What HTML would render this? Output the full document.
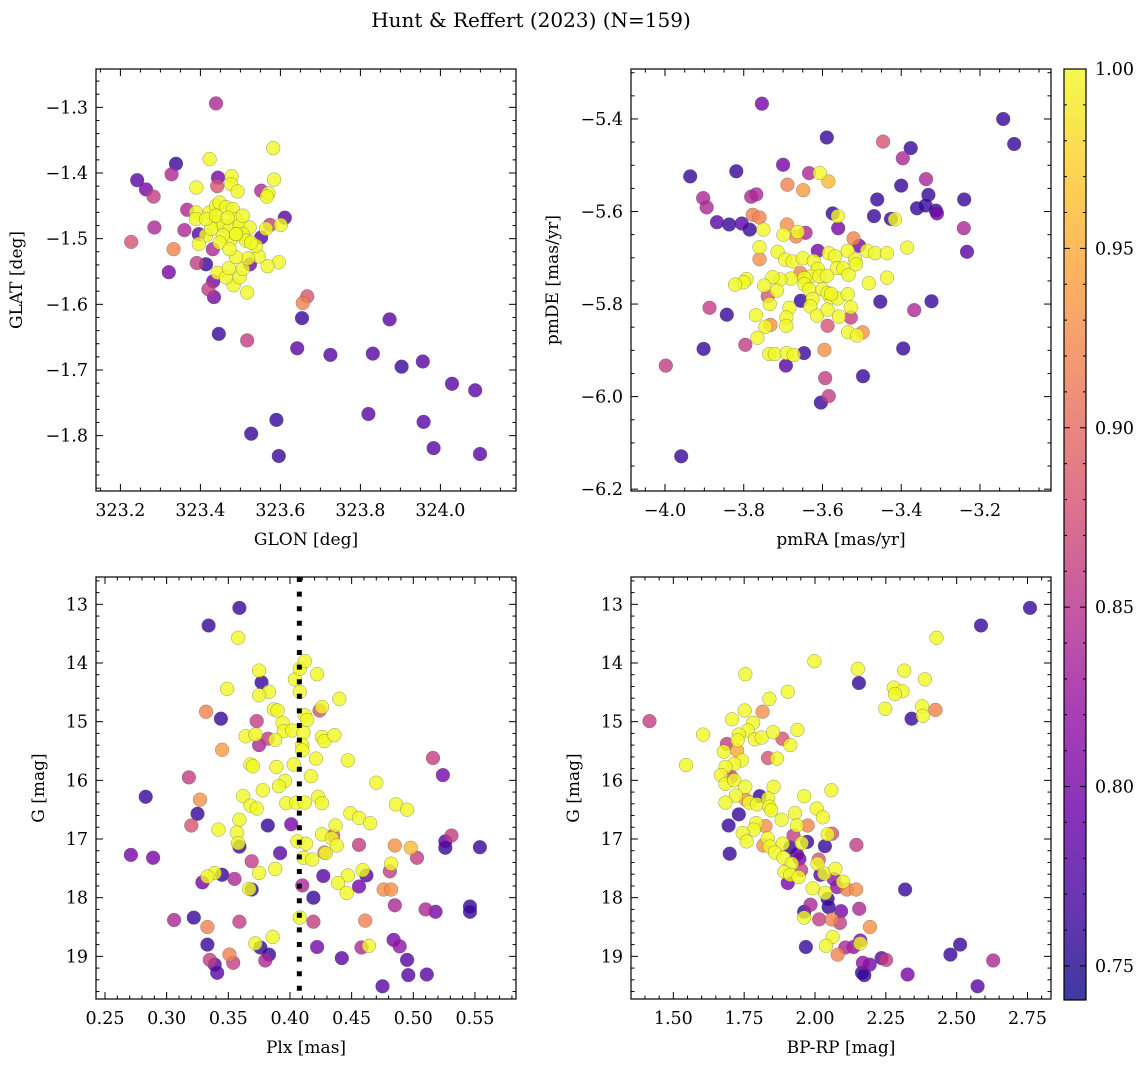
<!DOCTYPE html>
<html><head><meta charset="utf-8"><title>Hunt & Reffert (2023)</title>
<style>
html,body{margin:0;padding:0;background:#fff;}
svg{display:block;font-family:"DejaVu Serif","Liberation Serif",serif;}
</style></head>
<body>
<svg id="fig" width="1148" height="1068" viewBox="0 0 1148 1068" xmlns="http://www.w3.org/2000/svg">
<rect x="0" y="0" width="1148" height="1068" fill="#fff"/>
<text x="531" y="27" font-size="20" text-anchor="middle">Hunt &amp; Reffert (2023) (N=159)</text>
</svg>
<script>
// ---------- data: top-left (GLON / GLAT) ----------
const tlX = [323.439,323.582,323.423,323.339,323.242,323.264,323.283,323.328,323.444,323.442,323.390,323.478,323.477,323.493,323.584,323.552,323.570,323.566,323.367,323.285,323.360,323.227,323.333,323.321,323.611,323.601,323.574,323.564,323.552,323.396,323.391,323.414,323.431,323.432,323.420,323.434,323.524,323.596,323.568,323.546,323.517,323.483,323.443,323.464,323.498,323.506,323.471,323.519,323.489,323.667,323.656,323.654,323.446,323.517,323.873,323.642,323.725,323.831,323.903,323.956,324.029,324.087,323.820,323.958,323.590,323.527,323.983,323.596,324.099,323.389,323.389,323.414,323.396,323.423,323.439,323.448,323.464,323.481,323.489,323.439,323.456,323.473,323.498,323.523,323.506,323.514,323.539,323.477,323.456,323.448,323.473,323.489,323.427,323.414,323.439,323.468,323.489,323.506,323.527];
const tlY = [-1.294,-1.362,-1.379,-1.386,-1.411,-1.425,-1.436,-1.402,-1.407,-1.420,-1.422,-1.405,-1.417,-1.428,-1.410,-1.427,-1.431,-1.436,-1.456,-1.483,-1.487,-1.505,-1.516,-1.551,-1.468,-1.479,-1.479,-1.485,-1.498,-1.493,-1.537,-1.539,-1.516,-1.565,-1.577,-1.589,-1.539,-1.536,-1.542,-1.527,-1.582,-1.571,-1.552,-1.559,-1.559,-1.546,-1.545,-1.530,-1.528,-1.588,-1.598,-1.621,-1.645,-1.655,-1.623,-1.667,-1.677,-1.675,-1.695,-1.687,-1.721,-1.731,-1.767,-1.779,-1.776,-1.797,-1.819,-1.831,-1.828,-1.460,-1.470,-1.495,-1.508,-1.460,-1.450,-1.445,-1.452,-1.455,-1.470,-1.475,-1.480,-1.485,-1.480,-1.483,-1.493,-1.503,-1.511,-1.501,-1.495,-1.506,-1.516,-1.493,-1.485,-1.470,-1.465,-1.468,-1.493,-1.465,-1.506];
const tlP = [0.84,1,1,0.76,0.78,0.80,0.86,0.84,0.80,0.88,1,1,1,1,1,0.84,1,1,0.84,0.84,0.84,0.88,0.92,0.80,0.78,1,0.86,1,0.78,0.78,0.86,0.76,0.84,0.80,0.86,0.80,0.80,1,1,1,1,1,1,1,1,1,1,1,1,0.88,0.92,0.76,0.76,0.86,0.78,0.78,0.78,0.78,0.76,0.78,0.78,0.78,0.78,0.78,0.76,0.76,0.78,0.76,0.78,1,1,1,1,1,1,1,1,1,1,1,1,1,1,1,1,1,1,1,1,1,1,1,1,1,1,1,1,1,1];

// ---------- data: top-right (pmRA / pmDE) ----------
const trX = [-3.754,-3.141,-3.113,-3.589,-3.446,-3.376,-3.396,-3.936,-3.819,-3.700,-3.634,-3.607,-3.585,-3.689,-3.649,-3.781,-3.768,-3.903,-3.894,-3.400,-3.337,-3.331,-3.461,-3.360,-3.338,-3.312,-3.309,-3.240,-3.241,-3.233,-3.777,-3.760,-3.868,-3.837,-3.805,-3.785,-3.750,-3.574,-3.561,-3.560,-3.469,-3.426,-3.416,-3.690,-3.667,-3.643,-3.663,-3.699,-3.521,-3.507,-3.385,-3.760,-3.760,-3.612,-3.887,-3.843,-3.902,-3.998,-3.959,-3.796,-3.453,-3.323,-3.367,-3.395,-3.497,-3.595,-3.647,-3.693,-3.593,-3.584,-3.604,-3.655,-3.587,-3.498,-3.528,-3.732,-3.739,-3.656,-3.714,-3.695,-3.676,-3.650,-3.622,-3.584,-3.568,-3.536,-3.517,-3.515,-3.487,-3.466,-3.436,-3.563,-3.547,-3.534,-3.612,-3.629,-3.608,-3.589,-3.646,-3.680,-3.707,-3.727,-3.793,-3.800,-3.822,-3.748,-3.716,-3.646,-3.634,-3.625,-3.631,-3.600,-3.580,-3.561,-3.536,-3.587,-3.734,-3.684,-3.769,-3.745,-3.692,-3.692,-3.614,-3.587,-3.558,-3.528,-3.535,-3.512,-3.765,-3.735,-3.721,-3.691,-3.673,-3.482,-3.436,-3.578];
const trY = [-5.367,-5.400,-5.454,-5.440,-5.449,-5.463,-5.485,-5.524,-5.513,-5.499,-5.517,-5.517,-5.535,-5.542,-5.554,-5.568,-5.563,-5.571,-5.591,-5.544,-5.530,-5.564,-5.574,-5.593,-5.587,-5.598,-5.604,-5.574,-5.636,-5.687,-5.607,-5.613,-5.623,-5.628,-5.626,-5.639,-5.639,-5.604,-5.610,-5.636,-5.610,-5.616,-5.617,-5.628,-5.654,-5.646,-5.644,-5.650,-5.658,-5.674,-5.678,-5.703,-5.677,-5.685,-5.808,-5.823,-5.897,-5.933,-6.129,-5.888,-5.795,-5.794,-5.813,-5.896,-5.956,-5.899,-5.906,-5.933,-5.960,-5.999,-6.013,-5.793,-5.847,-5.861,-5.829,-5.845,-5.783,-5.733,-5.687,-5.704,-5.708,-5.701,-5.707,-5.690,-5.697,-5.685,-5.704,-5.714,-5.685,-5.690,-5.690,-5.722,-5.723,-5.737,-5.724,-5.740,-5.740,-5.739,-5.744,-5.745,-5.747,-5.742,-5.746,-5.753,-5.758,-5.760,-5.771,-5.757,-5.768,-5.789,-5.805,-5.768,-5.786,-5.788,-5.779,-5.776,-5.800,-5.808,-5.824,-5.849,-5.829,-5.847,-5.825,-5.812,-5.827,-5.807,-5.861,-5.868,-5.873,-5.908,-5.908,-5.906,-5.910,-5.755,-5.743,-5.778];
const trP = [0.80,0.76,0.76,0.76,0.88,0.76,0.84,0.76,0.76,0.80,0.84,1,0.96,0.92,0.94,0.84,0.84,0.84,0.84,0.76,0.84,0.76,0.76,0.76,0.76,0.76,0.80,0.76,0.84,0.78,0.92,0.92,0.78,0.76,0.78,0.76,1,0.76,1,0.80,0.76,0.76,1,0.93,0.92,0.84,1,1,0.92,0.80,1,0.93,1,0.80,0.86,0.76,0.76,0.86,0.76,0.86,0.76,0.76,0.84,0.76,0.76,0.93,0.76,0.78,0.86,0.86,0.76,0.76,0.88,0.93,0.86,0.93,0.88,0.92,1,1,1,1,1,1,1,1,1,1,1,1,1,1,1,1,1,1,1,1,1,1,1,1,1,1,1,1,1,1,1,1,1,1,1,1,1,1,1,1,1,1,1,1,1,1,1,1,1,1,1,1,1,1,1,1,1,1];

// ---------- data: bottom-left (Plx / G) ----------
const blX = [0.359,0.334,0.358,0.283,0.271,0.289,0.318,0.327,0.325,0.320,0.332,0.344,0.345,0.373,0.375,0.382,0.377,0.359,0.369,0.382,0.392,0.401,0.345,0.329,0.355,0.369,0.306,0.322,0.333,0.359,0.333,0.335,0.339,0.341,0.351,0.354,0.376,0.383,0.380,0.424,0.410,0.419,0.427,0.419,0.422,0.442,0.428,0.435,0.456,0.456,0.458,0.461,0.462,0.475,0.476,0.482,0.481,0.485,0.484,0.489,0.495,0.496,0.511,0.485,0.503,0.498,0.510,0.518,0.516,0.524,0.526,0.526,0.531,0.546,0.546,0.554,0.375,0.422,0.404,0.408,0.412,0.349,0.383,0.375,0.408,0.440,0.426,0.387,0.390,0.412,0.414,0.394,0.395,0.402,0.411,0.364,0.372,0.388,0.426,0.428,0.436,0.410,0.410,0.368,0.370,0.389,0.403,0.421,0.447,0.417,0.396,0.391,0.378,0.362,0.368,0.373,0.397,0.405,0.412,0.423,0.426,0.470,0.486,0.495,0.449,0.456,0.465,0.359,0.342,0.357,0.358,0.437,0.426,0.434,0.438,0.406,0.413,0.429,0.411,0.418,0.388,0.375,0.339,0.333,0.367,0.447,0.439,0.446,0.459,0.482,0.408,0.386,0.372,0.464];
const blY = [13.06,13.36,13.57,16.28,17.27,17.32,15.95,16.33,16.57,16.77,14.83,14.95,15.48,14.99,15.40,15.29,14.33,17.13,17.38,16.77,17.24,16.75,17.61,17.74,17.68,17.86,18.38,18.34,18.50,18.41,18.80,19.06,19.14,19.28,18.97,19.11,18.85,18.97,19.07,14.81,17.79,18.00,17.63,18.41,18.84,19.03,17.23,16.94,17.10,17.81,18.85,18.39,17.62,19.51,17.86,17.86,17.55,18.13,18.72,18.83,19.06,19.32,19.31,17.11,17.32,17.15,18.20,18.24,15.62,15.91,17.04,17.15,16.94,18.15,18.24,17.14,14.13,14.19,14.28,14.10,13.97,14.44,14.49,14.55,14.49,14.61,14.75,14.79,14.81,14.89,14.97,15.02,15.16,15.15,15.19,15.25,15.22,15.31,15.26,15.33,15.23,15.40,15.49,15.73,15.76,15.77,15.73,15.63,15.66,15.93,16.01,16.10,16.17,16.27,16.43,16.48,16.39,16.38,16.38,16.28,16.39,16.04,16.41,16.50,16.56,16.64,16.73,16.67,16.84,16.89,17.07,16.77,16.92,16.99,17.11,17.04,17.08,17.24,17.32,17.35,17.51,17.58,17.58,17.64,17.85,17.62,17.75,17.92,17.53,17.42,18.34,18.67,18.78,18.82];
const blP = [0.76,0.76,1,0.76,0.80,0.80,0.86,0.93,0.76,0.88,0.92,0.76,0.94,0.86,0.84,0.86,0.76,0.76,0.86,0.76,0.78,0.80,0.76,0.80,0.84,0.76,0.84,0.76,0.92,0.86,0.76,0.86,0.78,0.78,0.92,0.86,0.76,0.76,0.84,0.88,0.84,0.76,0.78,0.86,0.80,0.78,0.90,0.88,0.86,0.80,0.84,0.92,0.78,0.78,0.93,0.93,0.86,0.84,0.80,0.82,0.78,0.78,0.78,0.93,0.86,0.96,0.84,0.80,0.86,0.80,0.78,0.76,0.86,0.76,0.76,0.76,1,1,1,1,1,1,1,1,1,1,1,1,1,1,1,1,1,1,1,1,1,1,1,1,1,1,1,1,1,1,1,1,1,1,1,1,1,1,1,1,1,1,1,1,1,1,1,1,1,1,1,1,1,1,1,1,1,1,1,1,1,1,1,1,1,1,1,1,1,1,1,1,1,1,1,1,1,1,1,1,1,1];

// ---------- data: bottom-right (BP-RP / G) ----------
const brX = [2.759,2.586,2.429,1.998,2.151,2.155,2.315,2.388,2.278,2.309,2.282,1.754,1.904,1.839,2.248,2.378,2.381,2.425,2.341,1.416,1.815,1.752,1.707,1.782,1.605,1.762,1.731,1.788,1.812,1.852,1.885,1.938,1.913,1.727,1.689,1.678,1.725,1.834,1.866,1.742,1.715,1.684,1.545,1.668,1.704,1.684,1.715,1.754,1.854,2.058,1.962,1.721,1.684,1.805,1.756,1.768,1.795,1.835,1.839,1.845,2.006,2.028,1.731,1.695,1.882,1.929,1.792,1.784,1.825,1.936,1.974,1.924,1.745,1.759,1.833,1.818,1.840,1.886,1.913,1.972,1.953,2.060,2.045,2.035,2.146,1.699,1.859,1.889,1.936,1.945,2.013,2.009,1.918,1.951,1.892,1.913,1.942,2.019,2.033,2.072,2.066,1.904,2.099,2.078,2.113,2.145,1.992,2.036,2.045,2.318,1.984,2.048,2.092,2.156,1.962,1.962,2.015,2.059,2.088,2.194,2.062,1.968,2.039,2.080,2.107,2.136,2.160,2.160,2.235,2.251,2.169,2.193,2.166,2.174,2.327,2.478,2.512,2.629,2.574];
const brY = [13.06,13.36,13.57,13.97,14.10,14.34,14.13,14.28,14.42,14.48,14.53,14.19,14.49,14.61,14.78,14.74,14.90,14.80,14.95,14.99,14.83,14.81,14.96,15.02,15.22,15.15,15.22,15.30,15.27,15.18,15.29,15.14,15.40,15.32,15.38,15.51,15.49,15.62,15.63,15.66,15.72,15.77,15.74,15.91,15.94,16.06,16.00,16.11,16.11,16.17,16.27,16.26,16.38,16.27,16.33,16.38,16.41,16.31,16.45,16.51,16.48,16.63,16.58,16.77,16.67,16.56,16.73,16.84,16.78,16.77,16.77,16.94,16.90,17.04,16.99,17.11,17.13,17.08,17.14,17.05,17.07,16.91,16.92,17.12,17.10,17.25,17.23,17.32,17.26,17.34,17.35,17.42,17.42,17.53,17.56,17.61,17.65,17.61,17.59,17.51,17.68,17.75,17.73,17.82,17.86,17.86,17.84,17.92,18.02,17.86,18.12,18.16,18.23,18.19,18.24,18.34,18.37,18.37,18.43,18.50,18.67,18.84,18.82,18.97,18.85,18.84,18.73,18.78,19.03,19.06,19.11,19.14,19.28,19.32,19.31,18.97,18.80,19.07,19.51];
const brP = [0.76,0.76,1,1,1,0.76,1,1,1,1,1,1,1,1,1,1,1,0.92,0.76,0.86,0.93,1,1,1,1,1,1,1,1,1,0.88,1,1,1,0.86,1,0.95,0.88,1,1,1,1,1,1,0.86,1,1,1,1,1,1,1,1,0.76,0.93,1,1,1,1,1,1,1,0.76,0.76,1,1,1,1,0.93,1,0.92,0.86,1,1,1,0.93,1,1,0.76,0.76,1,0.88,1,0.76,0.86,0.76,1,1,0.78,0.80,0.88,1,1,0.86,1,1,1,0.78,1,1,0.82,0.80,1,0.82,0.92,0.93,1,1,0.76,0.76,0.84,0.76,0.80,0.84,0.76,1,0.86,0.92,0.86,0.93,1,0.76,1,0.92,0.84,0.82,0.80,1,0.78,0.86,0.82,0.80,0.76,0.76,0.80,0.76,0.76,0.84,0.78];

// tick values
const tlXTicks = [323.2,323.4,323.6,323.8,324.0];
const tlYTicks = [-1.3,-1.4,-1.5,-1.6,-1.7,-1.8];
const trXTicks = [-4.0,-3.8,-3.6,-3.4,-3.2];
const trYTicks = [-5.4,-5.6,-5.8,-6.0,-6.2];
const blXTicks = [0.25,0.30,0.35,0.40,0.45,0.50,0.55];
const gTicks = [13,14,15,16,17,18,19];
const brXTicks = [1.50,1.75,2.00,2.25,2.50,2.75];
const cbTicks = [0.75,0.80,0.85,0.90,0.95,1.00];
const plxCut = [0.4076];

const NS = "http://www.w3.org/2000/svg";
const svg = document.getElementById('fig');
function mk(tag, attrs, parent){ const e=document.createElementNS(NS,tag); for(const k in attrs) e.setAttribute(k,attrs[k]); (parent||svg).appendChild(e); return e; }

const PMIN=0.7405, PMAX=1.0;
const plasma=["#0d0887","#41049d","#6a00a8","#8f0da4","#b12a90","#cc4778","#e16462","#f2844b","#fca636","#fcce25","#f0f921"];
function hex2rgb(h){return [parseInt(h.substr(1,2),16),parseInt(h.substr(3,2),16),parseInt(h.substr(5,2),16)];}
function cmap(p){ let t=(p-PMIN)/(PMAX-PMIN); t=Math.max(0,Math.min(1,t)); const f=t*10; const i=Math.min(9,Math.floor(f)); const u=f-i; const a=hex2rgb(plasma[i]), b=hex2rgb(plasma[i+1]); return "rgb("+a.map((v,k)=>Math.round(v+(b[k]-v)*u)).join(",")+")"; }
function fmt(v,d){ const s=Math.abs(v).toFixed(d); return (v<-1e-9?"\u2212":"")+s; }

const TICKFS=17.5, LABFS=17;

function panel(cfg){
  const g=mk('g',{});
  
  
  const sx=v=>cfg.x0+(v-cfg.xmin)/(cfg.xmax-cfg.xmin)*cfg.w;
  const sy=v=>cfg.y0+(v-cfg.ytop)/(cfg.ybot-cfg.ytop)*cfg.h;
  const idx=cfg.px.map((_,i)=>i).sort((a,b)=>cfg.pp[a]-cfg.pp[b]);
  const pg=mk('g',{},g);
  idx.forEach(i=>{
    const c=mk('circle',{cx:sx(cfg.px[i]).toFixed(1),cy:sy(cfg.py[i]).toFixed(1),r:6.9,fill:cmap(cfg.pp[i]),'fill-opacity':0.8,stroke:'#555','stroke-width':0.5,'stroke-opacity':0.6},pg);
    
    
  });
  if(cfg.vline){ cfg.vline.forEach(v=>{
    const l=mk('line',{x1:sx(v),x2:sx(v),y1:cfg.y0,y2:cfg.y0+cfg.h,stroke:'#000','stroke-width':5,'stroke-dasharray':'5,9.6'},g);
    
    
  });}
  const fr=mk('rect',{x:cfg.x0,y:cfg.y0,width:cfg.w,height:cfg.h,fill:'none',stroke:'#000','stroke-width':1.2},g);
  
  
  const lo=Math.min(cfg.xmin,cfg.xmax), hi=Math.max(cfg.xmin,cfg.xmax);
  const xm=cfg.xminor;
  for(let v=Math.ceil(lo/xm-1e-6)*xm; v<=hi+1e-9; v+=xm){
    const X=sx(v); const major=cfg.xt.some(t=>Math.abs(t-v)<xm/10); const L=major?7:3.5;
    mk('line',{x1:X,x2:X,y1:cfg.y0+cfg.h,y2:cfg.y0+cfg.h-L,stroke:'#000','stroke-width':1},g);
    mk('line',{x1:X,x2:X,y1:cfg.y0,y2:cfg.y0+L,stroke:'#000','stroke-width':1},g);
  }
  cfg.xt.forEach(t=>{
    const tx=mk('text',{x:sx(t),y:cfg.y0+cfg.h+25,'font-size':TICKFS,'text-anchor':'middle'},g);
    tx.textContent=fmt(t,cfg.xd);
    
    
  });
  const ylo=Math.min(cfg.ytop,cfg.ybot), yhi=Math.max(cfg.ytop,cfg.ybot), ym=cfg.yminor;
  for(let v=Math.ceil(ylo/ym-1e-6)*ym; v<=yhi+1e-9; v+=ym){
    const Y=sy(v); const major=cfg.yt.some(t=>Math.abs(t-v)<ym/10); const L=major?7:3.5;
    mk('line',{x1:cfg.x0,x2:cfg.x0+L,y1:Y,y2:Y,stroke:'#000','stroke-width':1},g);
    mk('line',{x1:cfg.x0+cfg.w,x2:cfg.x0+cfg.w-L,y1:Y,y2:Y,stroke:'#000','stroke-width':1},g);
  }
  cfg.yt.forEach(t=>{
    const tx=mk('text',{x:cfg.x0-8,y:sy(t)+6,'font-size':TICKFS,'text-anchor':'end'},g);
    tx.textContent=fmt(t,cfg.yd);
    
    
  });
  const xl=mk('text',{x:cfg.x0+cfg.w/2,y:cfg.y0+cfg.h+54,'font-size':LABFS,'text-anchor':'middle'},g);
  xl.textContent=cfg.xlabel;
  
  
  const yx=cfg.ylx, yy=cfg.y0+cfg.h/2;
  const yl=mk('text',{x:yx,y:yy,'font-size':LABFS,'text-anchor':'middle',transform:'rotate(-90 '+yx+' '+yy+')'},g);
  yl.textContent=cfg.ylabel;
  
  
}

panel({name:'glon-glat-panel',x0:96,y0:69,w:420,h:422,xmin:323.139,xmax:324.189,ytop:-1.2416,ybot:-1.8843,px:tlX,py:tlY,pp:tlP,xt:tlXTicks,yt:tlYTicks,xminor:0.05,yminor:0.02,xd:1,yd:1,xlabel:'GLON [deg]',ylabel:'GLAT [deg]',ylx:22});
panel({name:'proper-motion-panel',x0:631,y0:69,w:420,h:422,xmin:-4.0864,xmax:-3.0195,ytop:-5.292,ybot:-6.204,px:trX,py:trY,pp:trP,xt:trXTicks,yt:trYTicks,xminor:0.05,yminor:0.05,xd:1,yd:1,xlabel:'pmRA [mas/yr]',ylabel:'pmDE [mas/yr]',ylx:558});
panel({name:'parallax-magnitude-panel',x0:96,y0:577,w:420,h:422,xmin:0.2427,xmax:0.5833,ytop:12.534,ybot:19.727,px:blX,py:blY,pp:blP,xt:blXTicks,yt:gTicks,xminor:0.01,yminor:0.2,xd:2,yd:0,xlabel:'Plx [mas]',ylabel:'G [mag]',ylx:44,vline:plxCut});
panel({name:'color-magnitude-panel',x0:631,y0:577,w:420,h:422,xmin:1.3506,xmax:2.833,ytop:12.534,ybot:19.727,px:brX,py:brY,pp:brP,xt:brXTicks,yt:gTicks,xminor:0.05,yminor:0.2,xd:2,yd:0,xlabel:'BP-RP [mag]',ylabel:'G [mag]',ylx:579});

// colorbar
(function(){
  const x0=1064,y0=69,w=22,h=931;
  const defs=mk('defs',{});
  const lg=mk('linearGradient',{id:'plasmaGrad',x1:0,y1:1,x2:0,y2:0},defs);
  plasma.forEach((c,i)=>mk('stop',{offset:(i/10),'stop-color':c},lg));
  const cb=mk('g',{});
  
  
  mk('rect',{x:x0,y:y0,width:w,height:h,fill:'url(#plasmaGrad)','fill-opacity':0.8},cb);
  mk('rect',{x:x0,y:y0,width:w,height:h,fill:'none',stroke:'#000','stroke-width':1.2},cb);
  const sy=v=>y0+(PMAX-v)/(PMAX-PMIN)*h;
  for(let v=0.75; v<=1.0001; v+=0.01){
    const Y=sy(v); const major=cbTicks.some(t=>Math.abs(t-v)<0.001); const L=major?6:3;
    mk('line',{x1:x0+w,x2:x0+w-L,y1:Y,y2:Y,stroke:'#000','stroke-width':1},cb);
    mk('line',{x1:x0,x2:x0+L,y1:Y,y2:Y,stroke:'#000','stroke-width':1},cb);
  }
  cbTicks.forEach(t=>{
    const tx=mk('text',{x:x0+w+9,y:sy(t)+6,'font-size':TICKFS},cb);
    tx.textContent=t.toFixed(2);
    
    
  });
})();
</script>
</body></html>
